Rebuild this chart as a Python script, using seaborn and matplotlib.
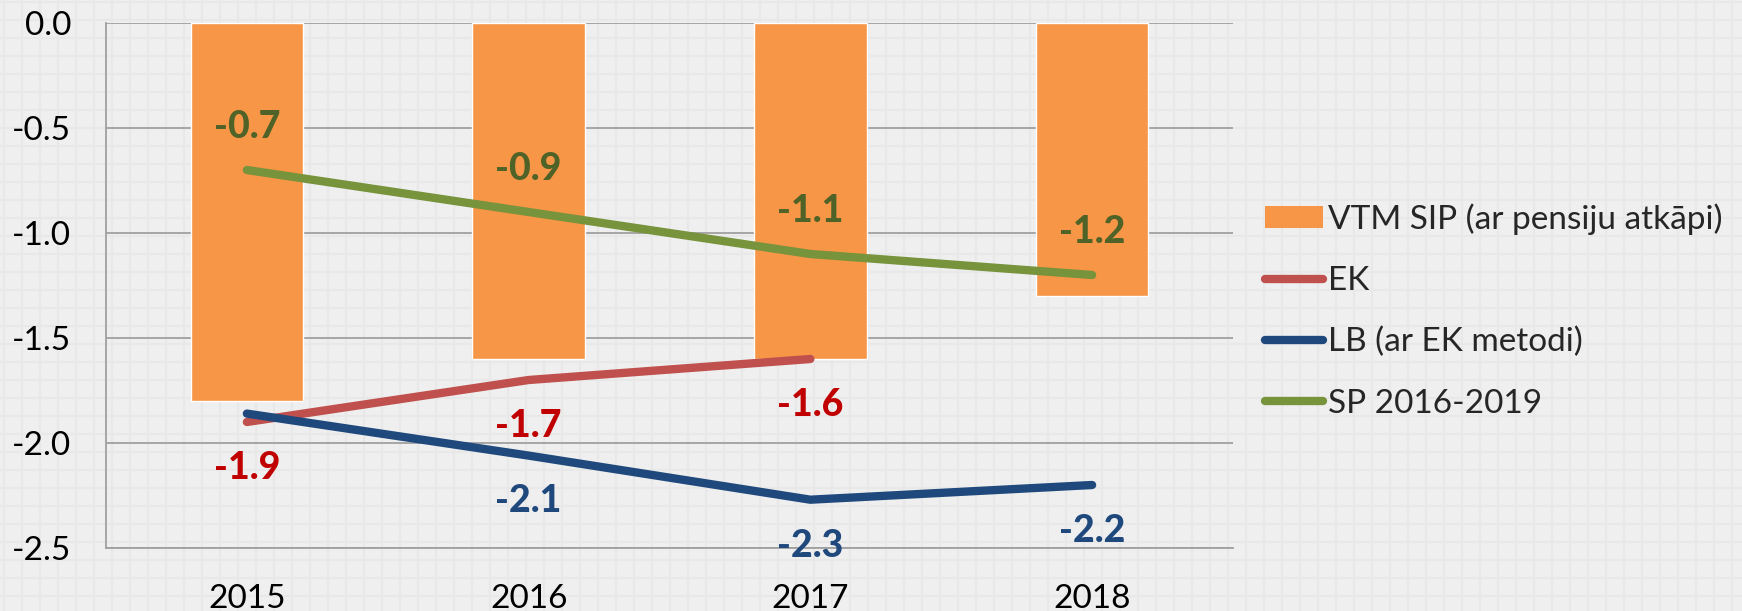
import numpy as np
import pandas as pd
import matplotlib
matplotlib.use("Agg")
import matplotlib.pyplot as plt
from matplotlib.patches import Patch
from matplotlib.lines import Line2D
import seaborn as sns

# ---- data ----
years = ["2015", "2016", "2017", "2018"]
vtm_sip = [-1.8, -1.6, -1.6, -1.3]
ek = [-1.9, -1.7, -1.6]
lb = [-1.86, -2.06, -2.27, -2.2]
sp = [-0.7, -0.9, -1.1, -1.2]
lb_label_shown = [False, True, True, True]
yticks = [0.0, -0.5, -1.0, -1.5, -2.0, -2.5]

series_names = ["VTM SIP (ar pensiju atkāpi)", "EK", "LB (ar EK metodi)", "SP 2016-2019"]

# ---- style ----
sns.set_theme(style="white")
plt.rcParams["font.family"] = ["Lato", "DejaVu Sans"]

c_bar = "#F79646"
c_ek, c_lb, c_sp = "#C0504D", "#1F497D", "#77933C"
c_ek_lab, c_lb_lab, c_sp_lab = "#C00000", "#1F497D", "#4F6228"
bg = "#EFEFEF"

W, H = 1742, 611
fig = plt.figure(figsize=(W / 100, H / 100), dpi=100, facecolor=bg)

# background tile pattern
bax = fig.add_axes([0, 0, 1, 1], zorder=-5)
bax.set_xlim(0, W)
bax.set_ylim(H, 0)
bax.set_facecolor(bg)
bax.set_xticks(np.arange(4, W, 18))
bax.set_yticks(np.arange(2, H, 18))
bax.grid(True, color="#E8E8E8", lw=1.6)
bax.tick_params(length=0, labelbottom=False, labelleft=False)
for s in bax.spines.values():
    s.set_visible(False)

ax = fig.add_axes([106 / W, 1 - 548 / H, (1233 - 106) / W, (548 - 23) / H])
ax.set_facecolor("none")

df_bar = pd.DataFrame({"year": years, "value": vtm_sip})
sns.barplot(data=df_bar, x="year", y="value", order=years, color=c_bar,
            saturation=1, width=0.4, ax=ax, zorder=2)

idx = np.arange(len(years))
df_lines = pd.concat([
    pd.DataFrame({"x": idx[:len(ek)], "v": ek, "s": "EK"}),
    pd.DataFrame({"x": idx, "v": lb, "s": "LB"}),
    pd.DataFrame({"x": idx, "v": sp, "s": "SP"}),
])
for name, col in [("EK", c_ek), ("LB", c_lb), ("SP", c_sp)]:
    sns.lineplot(data=df_lines[df_lines.s == name], x="x", y="v", color=col,
                 lw=6, sort=False, ax=ax, zorder=3, solid_capstyle="round",
                 legend=False)

# data labels
lab_kw = dict(textcoords="offset points", ha="center", va="center",
              fontsize=27, fontweight="black", zorder=5)
for i, v in enumerate(sp):
    ax.annotate(f"{v:.1f}", (i, v), xytext=(0, 31), color=c_sp_lab, **lab_kw)
for i, v in enumerate(ek):
    ax.annotate(f"{v:.1f}", (i, v), xytext=(0, -33), color=c_ek_lab, **lab_kw)
for i, v in enumerate(lb):
    if lb_label_shown[i]:
        ax.annotate(f"{v:.1f}", (i, v), xytext=(0, -33), color=c_lb_lab, **lab_kw)

ax.set_ylim(-2.5, 0)
ax.set_xlim(-0.5, 3.5)
ax.set_yticks(yticks)
ax.set_yticklabels([f"{t:.1f}" for t in yticks])
ax.set_xticks(idx)
ax.set_xticklabels(years)
ax.set_xlabel("")
ax.set_ylabel("")
ax.yaxis.grid(True, color="#A0A0A0", lw=1.3, zorder=1)
ax.set_axisbelow(True)
ax.tick_params(axis="both", length=0, labelsize=24, colors="black")
ax.tick_params(axis="y", pad=25)
ax.tick_params(axis="x", pad=26)
for k in ["top", "right"]:
    ax.spines[k].set_visible(False)
for k in ["left", "bottom"]:
    ax.spines[k].set_color("#A0A0A0")
    ax.spines[k].set_linewidth(1.3)

handles = [
    Patch(facecolor=c_bar, edgecolor="none"),
    Line2D([], [], color=c_ek, lw=6, solid_capstyle="round"),
    Line2D([], [], color=c_lb, lw=6, solid_capstyle="round"),
    Line2D([], [], color=c_sp, lw=6, solid_capstyle="round"),
]
fig.legend(handles, series_names, loc="center left",
           bbox_to_anchor=(1265 / W, 1 - 311 / H), frameon=False,
           fontsize=24, handlelength=1.75, handletextpad=0.13,
           labelspacing=0.93, borderpad=0, borderaxespad=0, handleheight=0.65)

fig.savefig("out.png", dpi=100, facecolor=bg)
